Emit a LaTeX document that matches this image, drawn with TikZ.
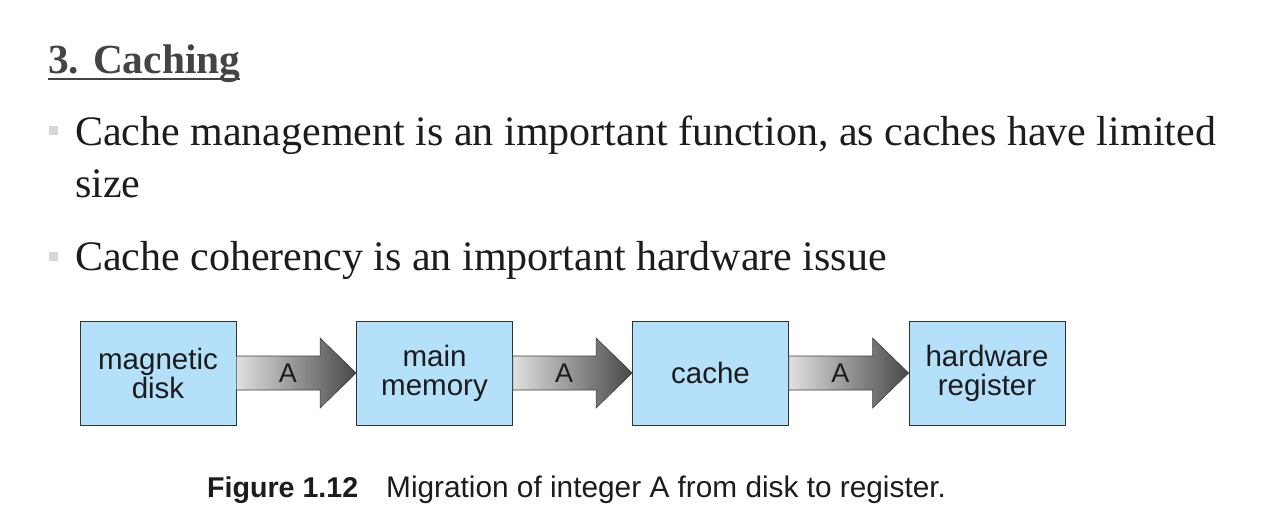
\documentclass[tikz,border=0pt]{standalone}
\usepackage{fontspec}
\setmainfont{Liberation Serif}
\newfontfamily\helv{Liberation Sans}
\usetikzlibrary{calc}
\definecolor{boxblue}{RGB}{180,224,249}
\definecolor{headgray}{RGB}{68,68,68}
\definecolor{txt}{RGB}{28,28,28}
\definecolor{bulletgray}{RGB}{215,215,215}
\tikzset{
  membox/.style={draw=black!80, line width=0.8pt, fill=boxblue, minimum width=156pt, minimum height=104pt, inner sep=0pt, align=center, font=\helv\fontsize{29.5}{29}\selectfont, text=txt},
  bul/.style={fill=bulletgray, minimum size=9pt, inner sep=0pt},
  bodytext/.style={anchor=base west, inner sep=0pt, font=\fontsize{42}{52}\selectfont, text=txt, align=left},
  alabel/.style={font=\helv\fontsize{27}{27}\selectfont, text=txt},
}
\newcommand\fatarrow[3]{%
  \path[left color=black!12, right color=black!72, draw=black!75, line width=0.6pt]
    ($(#1.east)+(0,-17)$) -- ($(#2.west)+(-36,-17)$) -- ($(#2.west)+(-36,-35)$) -- (#2.west)
    -- ($(#2.west)+(-36,35)$) -- ($(#2.west)+(-36,17)$) -- ($(#1.east)+(0,17)$) -- cycle;
  \node[alabel] (#3) at ($(#1.east)!0.43!(#2.west)$) {A};}
\begin{document}
\begin{tikzpicture}[x=1pt,y=-1pt]
\useasboundingbox[fill=white] (0,0) rectangle (1275,506);
% heading
\node[anchor=base west, inner sep=0pt, text=headgray, font=\bfseries\fontsize{41.4}{42}\selectfont] (head) at (48,73) {3. Caching};
\draw[headgray, line width=2.2pt] (48,79) -- (head.east |- 0,79);
% bullets
\node[bul] (b1) at (53,130) {};
\node[bodytext] (t1) at (75,145) {Cache management is an important function, as caches have limited};
\node[bodytext] (t1b) at (75,197) {size};
\node[bul] (b2) at (53,256) {};
\node[bodytext] (t2) at (75,270) {Cache coherency is an important hardware issue};
% diagram
\node[membox] (disk) at (158,373) {magnetic\\disk};
\node[membox] (mem) at (434.5,373) {main\\memory};
\node[membox] (cache) at (710.5,373) {cache};
\node[membox] (reg) at (987,373) {hardware\\register};
\fatarrow{disk}{mem}{a1}
\fatarrow{mem}{cache}{a2}
\fatarrow{cache}{reg}{a3}
% caption
\node[anchor=base west, inner sep=0pt, text=txt, font=\helv\fontsize{28.6}{28}\selectfont] (cap) at (207,497) {\textbf{Figure 1.12}\hspace{28pt}{\fontsize{29.8}{28}\selectfont Migration of integer A from disk to register.}};
\end{tikzpicture}
\end{document}
